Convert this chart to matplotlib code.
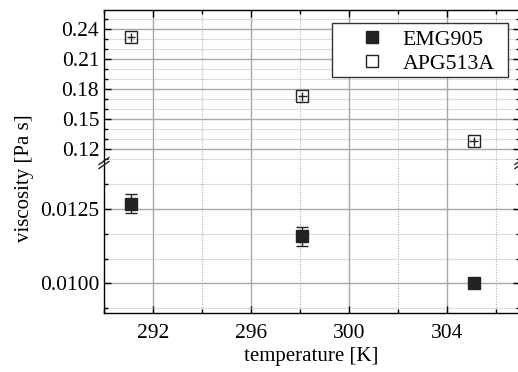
import numpy as np
import matplotlib
matplotlib.use("Agg")
import matplotlib.pyplot as plt
from matplotlib.ticker import AutoMinorLocator, FormatStrFormatter, MultipleLocator
from matplotlib.lines import Line2D
from matplotlib.patches import Rectangle

plt.rcParams['font.family'] = ['Liberation Serif', 'DejaVu Serif']
plt.rcParams['font.size'] = 15

temperature = [291.1, 298.1, 305.1]
emg905 = [0.01268, 0.01159, 0.01000]
emg905_err = [0.00032, 0.00032, 0.00008]
apg513a = [0.232, 0.173, 0.128]
apg513a_err = [0.0045, 0.0045, 0.0045]
apg513a_terr = [0.18, 0.18, 0.18]

W, H = 518, 372
fig = plt.figure(figsize=(W / 100, H / 100), dpi=100)

def px(x, y):
    return x / W, 1 - y / H

L, R, T, B, BRK = 104, 520, 10, 313, 160
ax_top = fig.add_axes([L / W, 1 - BRK / H, (R - L) / W, (BRK - T) / H])
ax_bot = fig.add_axes([L / W, 1 - B / H, (R - L) / W, (B - BRK) / H], sharex=ax_top)

for ax in (ax_top, ax_bot):
    ax.set_xlim(290, 307)
    ax.xaxis.set_major_locator(MultipleLocator(4))
    ax.xaxis.set_minor_locator(AutoMinorLocator(2))
    ax.yaxis.set_minor_locator(AutoMinorLocator(3))
    ax.grid(which='major', color='#a8a8a8', lw=1.0, ls='-')
    ax.grid(which='minor', color='#bcbcbc', lw=0.8, ls=(0, (1.2, 1.2)))
    ax.set_axisbelow(True)
    ax.tick_params(which='both', direction='in', top=True, right=True, width=1, labelsize=15.5)
    ax.tick_params(which='major', length=5)
    ax.tick_params(which='minor', length=3)
    ax.tick_params(axis='x', pad=8)
    for s in ax.spines.values():
        s.set_linewidth(1)

ax_top.spines['bottom'].set_visible(False)
ax_top.tick_params(which='both', bottom=False, labelbottom=False)
ax_bot.spines['top'].set_visible(False)
ax_bot.tick_params(which='both', top=False)

ax_top.set_ylim(0.109, 0.259)
ax_top.yaxis.set_major_locator(MultipleLocator(0.03))
ax_top.yaxis.set_major_formatter(FormatStrFormatter('%.2f'))

ax_bot.set_ylim(0.0090, 0.01415)
ax_bot.yaxis.set_major_locator(MultipleLocator(0.0025))
ax_bot.yaxis.set_major_formatter(FormatStrFormatter('%.4f'))

# open squares with a cross inside
ax_top.errorbar(temperature, apg513a, yerr=apg513a_err, xerr=apg513a_terr, fmt='none',
                ecolor='#222222', elinewidth=1, capsize=0, zorder=3)
ax_top.plot(temperature, apg513a, 's', ms=9.2, mfc='none', mec='#222222', mew=1,
            zorder=4, label='APG513A')

ax_bot.errorbar(temperature, emg905, yerr=emg905_err, fmt='none', ecolor='#222222',
                elinewidth=1, capsize=4.5, capthick=1, zorder=3)
ax_bot.plot(temperature, emg905, 's', ms=9.2, mfc='#222222', mec='#222222',
            zorder=4, label='EMG905')

# legend frame drawn by hand (wider right margin than matplotlib gives)
x0, y0 = px(332, 77)
x1, y1 = px(508, 23)
ax_top.add_patch(Rectangle((x0, y0), x1 - x0, y1 - y0, transform=fig.transFigure,
                           facecolor='white', edgecolor='#333333', lw=1,
                           zorder=4.8, clip_on=False))

handles = [Line2D([], [], ls='none', marker='s', ms=9.2, mfc='#222222', mec='#222222'),
           Line2D([], [], ls='none', marker='s', ms=9.2, mfc='white', mec='#222222', mew=1)]
leg = ax_top.legend(handles, ['EMG905', 'APG513A'], loc='upper right',
                    bbox_to_anchor=(0.9495, 0.897), borderaxespad=0, frameon=False,
                    fontsize=15.7, labelspacing=0.17,
                    handletextpad=-0.25, borderpad=0.2, handlelength=3.27)
leg.set_zorder(5)

# axis break marks
for xc in (L, R):
    for yc in (161, 165):
        a0, b0 = px(xc - 5, yc + 3.5)
        a1, b1 = px(xc + 5, yc - 3.5)
        fig.add_artist(Line2D([a0, a1], [b0, b1], color='#222222', lw=1))

fig.text(*px(25, 178), 'viscosity [Pa s]', rotation=90, ha='center', va='center', fontsize=15)
fig.text(*px(311, 356), 'temperature [K]', ha='center', va='center', fontsize=15)

fig.savefig('out.png', dpi=100)
